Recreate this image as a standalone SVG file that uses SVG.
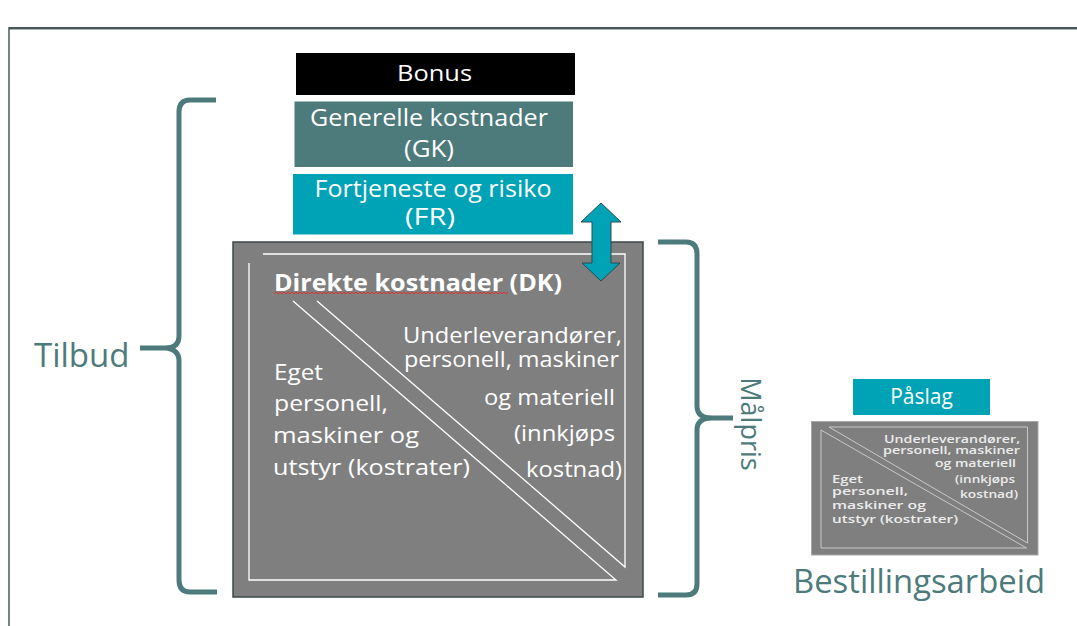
<svg xmlns="http://www.w3.org/2000/svg" width="1077" height="626" viewBox="0 0 1077 626">
<style>
.t{font-family:"Open Sans","Liberation Sans",sans-serif;fill:#ffffff}
.lbl{font-family:"Open Sans","Liberation Sans",sans-serif;fill:#4d7a7b}
.brace{fill:none;stroke:#4d7a7b;stroke-width:5;stroke-linecap:butt;stroke-linejoin:round}
.wl{stroke:#ffffff;stroke-width:1.3;fill:none}
.sl{stroke:#c8c8c8;stroke-width:1;fill:none}
.st{font-family:"Open Sans","Liberation Sans",sans-serif;fill:#ececec;font-size:10.5px;font-weight:600}
</style>
<rect x="0" y="0" width="1077" height="626" fill="#ffffff"/>
<g id="frame">
<line x1="9" y1="28" x2="1077" y2="28" stroke="#4a5858" stroke-width="2"/>
<line x1="9" y1="29.5" x2="1077" y2="29.5" stroke="#aab4b4" stroke-width="1"/>
<line x1="9" y1="27" x2="9" y2="626" stroke="#4a5858" stroke-width="1.5"/>
</g>
<g id="bonus">
<rect x="296" y="53" width="279" height="42" fill="#000000"/>
<text class="t" x="434.5" y="81" font-size="22" text-anchor="middle" textLength="75" lengthAdjust="spacingAndGlyphs">Bonus</text>
</g>
<g id="gk">
<rect x="294.5" y="101.5" width="278.5" height="65.5" fill="#4d7a7b"/>
<text class="t" x="429" y="126" font-size="24" text-anchor="middle" textLength="238" lengthAdjust="spacingAndGlyphs">Generelle kostnader</text>
<text class="t" x="429" y="157" font-size="24" text-anchor="middle" textLength="50" lengthAdjust="spacingAndGlyphs">(GK)</text>
</g>
<g id="fr">
<rect x="293" y="174" width="280" height="60.5" fill="#00a3b5"/>
<text class="t" x="433" y="197" font-size="24" text-anchor="middle" textLength="237" lengthAdjust="spacingAndGlyphs">Fortjeneste og risiko</text>
<text class="t" x="430" y="225" font-size="24" text-anchor="middle" textLength="50" lengthAdjust="spacingAndGlyphs">(FR)</text>
</g>
<g id="dk">
<rect x="233" y="242" width="410" height="355" fill="#7f7f7f" stroke="#3c4a4a" stroke-width="1.5"/>
<polyline class="wl" points="263,254 625,254 625,567 317,301"/>
<polyline class="wl" points="249,263 249,580 616,580 293,301"/>
<text class="t" x="274" y="291" font-size="23" font-weight="bold" textLength="288" lengthAdjust="spacingAndGlyphs">Direkte kostnader (DK)</text>
<path d="M274,294 l2,-2 l2,2 l2,-2 l2,2 l2,-2 l2,2 l2,-2 l2,2 l2,-2 l2,2 l2,-2 l2,2 l2,-2 l2,2 l2,-2 l2,2 l2,-2 l2,2 l2,-2 l2,2 l2,-2 l2,2 l2,-2 l2,2 l2,-2 l2,2 l2,-2 l2,2 l2,-2 l2,2 l2,-2 l2,2 l2,-2 l2,2 l2,-2 l2,2 l2,-2 l2,2 l2,-2 l2,2 l2,-2 l2,2 l2,-2 l2,2 l2,-2 l2,2 l2,-2 l2,2 l2,-2 l2,2 l2,-2 l2,2 l2,-2 l2,2 l2,-2 l2,2 l2,-2 l2,2 l2,-2 l2,2 l2,-2 l2,2 l2,-2 l2,2 l2,-2 l2,2 l2,-2 l2,2 l2,-2 l2,2 l2,-2 l2,2 l2,-2 l2,2 l2,-2 l2,2 l2,-2 l2,2 l2,-2 l2,2 l2,-2 l2,2 l2,-2 l2,2 l2,-2 l2,2 l2,-2 l2,2 l2,-2 l2,2 l2,-2 l2,2 l2,-2 l2,2 l2,-2 l2,2 l2,-2 l2,2 l2,-2 l2,2 l2,-2 l2,2 l2,-2 l2,2 l2,-2 l2,2 l2,-2 l2,2 l2,-2 l2,2 l2,-2 l2,2 l2,-2 l2,2 l2,-2 l2,2 l2,-2" fill="none" stroke="#e03030" stroke-width="1"/>
<text class="t" font-size="21">
<tspan x="403" y="343" textLength="219" lengthAdjust="spacingAndGlyphs">Underleverandører,</tspan>
<tspan x="404" y="367" textLength="215" lengthAdjust="spacingAndGlyphs">personell, maskiner</tspan>
<tspan x="484" y="405" textLength="131" lengthAdjust="spacingAndGlyphs">og materiell</tspan>
<tspan x="514" y="441" textLength="101" lengthAdjust="spacingAndGlyphs">(innkjøps</tspan>
<tspan x="526" y="477" textLength="96" lengthAdjust="spacingAndGlyphs">kostnad)</tspan>
</text>
<text class="t" font-size="21">
<tspan x="274" y="380" textLength="49" lengthAdjust="spacingAndGlyphs">Eget</tspan>
<tspan x="274" y="411" textLength="114" lengthAdjust="spacingAndGlyphs">personell,</tspan>
<tspan x="273" y="443" textLength="146" lengthAdjust="spacingAndGlyphs">maskiner og</tspan>
<tspan x="273" y="475" textLength="197" lengthAdjust="spacingAndGlyphs">utstyr (kostrater)</tspan>
</text>
</g>
<g id="arrow">
<polygon points="601,203 621,222 611,222 611,263 620,263 601,281 582,263 592,263 592,222 581,222" fill="#00a3b5" stroke="#2a4a50" stroke-width="1"/>
</g>
<g id="tilbud">
<path class="brace" d="M216,100 L190,100 Q179,100 179,112 L179,336 Q179,348 165,348 L140,348 M165,348 Q179,349 179,361 L179,580 Q179,592 190,592 L217,592"/>
<text class="lbl" x="34" y="367" font-size="33">Tilbud</text>
</g>
<g id="malpris">
<path class="brace" d="M658,242 L686,242 Q697,242 697,254 L697,406 Q697,418 712,418 L733,418 M712,418 Q697,418 697,430 L697,584 Q697,595 686,595 L658,595"/>
<text class="lbl" x="0" y="0" font-size="27" text-anchor="middle" transform="translate(741,424) rotate(90)">Målpris</text>
</g>
<g id="paslag">
<rect x="853" y="379" width="137" height="36" fill="#00a3b5"/>
<text class="t" x="921.5" y="404" font-size="21" text-anchor="middle">Påslag</text>
</g>
<g id="bestilling">
<rect x="811.5" y="421.5" width="226.5" height="133.5" fill="#7f7f7f" stroke="#a8a8a8" stroke-width="1"/>
<polyline class="sl" points="829,427 1027.5,427 1027.5,543 829,427"/>
<polyline class="sl" points="821,430 821,548 1026.5,548 821,430"/>
<text class="st">
<tspan x="884" y="443" textLength="136" lengthAdjust="spacingAndGlyphs">Underleverandører,</tspan>
<tspan x="883" y="454" textLength="137" lengthAdjust="spacingAndGlyphs">personell, maskiner</tspan>
<tspan x="935" y="467" textLength="81" lengthAdjust="spacingAndGlyphs">og materiell</tspan>
<tspan x="955" y="483" textLength="60" lengthAdjust="spacingAndGlyphs">(innkjøps</tspan>
<tspan x="960" y="498" textLength="58" lengthAdjust="spacingAndGlyphs">kostnad)</tspan>
</text>
<text class="st">
<tspan x="832" y="483" textLength="31" lengthAdjust="spacingAndGlyphs">Eget</tspan>
<tspan x="832" y="495" textLength="76" lengthAdjust="spacingAndGlyphs">personell,</tspan>
<tspan x="832" y="509" textLength="94" lengthAdjust="spacingAndGlyphs">maskiner og</tspan>
<tspan x="832" y="523" textLength="126" lengthAdjust="spacingAndGlyphs">utstyr (kostrater)</tspan>
</text>
</g>
<text class="lbl" x="793" y="593" font-size="32" textLength="252" lengthAdjust="spacingAndGlyphs">Bestillingsarbeid</text>
</svg>
